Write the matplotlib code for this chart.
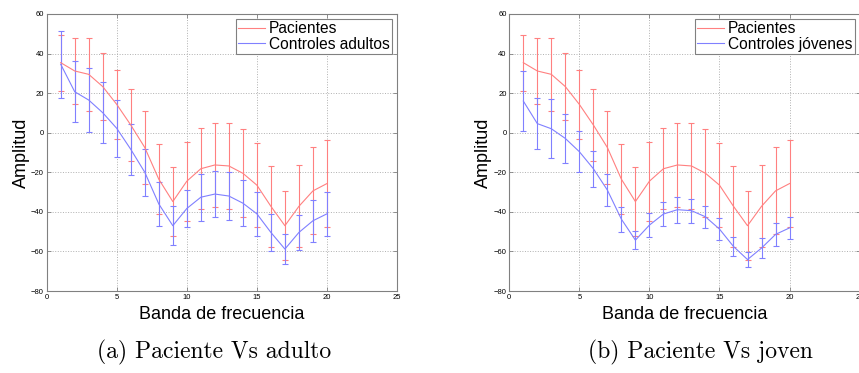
import numpy as np
import matplotlib
matplotlib.use("Agg")
import matplotlib.pyplot as plt
from matplotlib.lines import Line2D

# Banda de frecuencia 1..20
bandas = list(range(1, 21))

# Pacientes (same series in both panels)
pac_mean = [35.4, 31.2, 29.5, 23.3, 14.3, 3.9, -7.5, -23.5, -34.8, -24.5,
            -18.2, -16.3, -16.8, -20.5, -26.5, -37.2, -47.0, -37.2, -29.4, -25.7]
pac_err = [14.2, 16.7, 18.3, 17.0, 17.4, 18.0, 18.5, 17.8, 17.4, 20.0,
           20.6, 21.4, 21.9, 22.2, 21.4, 20.4, 17.3, 20.8, 22.0, 22.2]

# Controles adultos
adu_mean = [34.6, 20.7, 16.5, 10.1, 2.2, -8.4, -20.0, -36.0, -47.0, -38.3,
            -32.6, -31.0, -32.0, -35.6, -41.0, -50.4, -58.8, -50.4, -44.5, -41.0]
adu_err = [17.0, 15.4, 16.3, 15.5, 14.5, 13.0, 11.9, 11.0, 10.0, 9.3,
           11.8, 11.7, 11.9, 11.7, 11.1, 9.4, 7.7, 9.0, 10.5, 11.0]

# Controles jovenes
jov_mean = [16.0, 4.6, 2.0, -2.9, -9.6, -18.2, -29.0, -43.7, -54.3, -46.7,
            -41.1, -38.9, -39.4, -42.5, -48.7, -57.5, -64.1, -58.3, -51.4, -48.1]
jov_err = [15.0, 12.9, 15.0, 12.6, 10.4, 9.2, 8.0, 6.4, 4.5, 6.1,
           6.3, 6.6, 6.1, 5.7, 5.4, 4.7, 3.8, 4.9, 5.7, 5.7]

paneles = [
    ("Controles adultos", adu_mean, adu_err, "(a) Paciente Vs adulto"),
    ("Controles j\u00f3venes", jov_mean, jov_err, "(b) Paciente Vs joven"),
]

red = "#ff8080"
blue = "#8080ff"
gray = "#808080"

fig = plt.figure(figsize=(8.59, 3.73), dpi=100)
plt.rcParams["font.family"] = ["Liberation Sans", "DejaVu Sans"]

axes_pos = [[46.7 / 859, 82 / 373, 350.3 / 859, 277 / 373],
            [509.3 / 859, 82 / 373, 350.3 / 859, 277 / 373]]
caption_x = [214 / 859, 700 / 859]

for i, (label, mean, err, caption) in enumerate(paneles):
    ax = fig.add_axes(axes_pos[i])
    ax.errorbar(bandas, pac_mean, yerr=pac_err, color=red, lw=0.8,
                elinewidth=0.8, capsize=2.5, capthick=0.8)
    ax.errorbar(bandas, mean, yerr=err, color=blue, lw=0.8,
                elinewidth=0.8, capsize=2.5, capthick=0.8)
    ax.set_xlim(0, 25)
    ax.set_ylim(-80, 60)
    ax.set_xticks(range(0, 26, 5))
    ax.set_yticks(range(-80, 61, 20))
    ax.grid(True, linestyle=":", color="#b0b0b0", linewidth=0.7)
    for s in ax.spines.values():
        s.set_color(gray)
        s.set_linewidth(0.8)
    ax.tick_params(direction="in", length=3, width=0.6, color=gray,
                   labelsize=5.5, top=True, right=True, pad=2)
    ax.set_xlabel("Banda de frecuencia", fontsize=13, labelpad=4)
    ax.set_ylabel("Amplitud", fontsize=13, labelpad=1)
    handles = [Line2D([], [], color=red, lw=0.8),
               Line2D([], [], color=blue, lw=0.8)]
    leg = ax.legend(handles, ["Pacientes", label], loc="upper right",
                    fontsize=11.2, fancybox=False, handlelength=1.7,
                    handletextpad=0.3, borderpad=0.15, labelspacing=0.05,
                    borderaxespad=0.3, framealpha=1)
    leg.get_frame().set_edgecolor(gray)
    leg.get_frame().set_linewidth(0.8)
    fig.text(caption_x[i], 0.054, caption, ha="center", va="center",
             fontsize=17, family="cmr10")

fig.savefig("out.png", dpi=100)
